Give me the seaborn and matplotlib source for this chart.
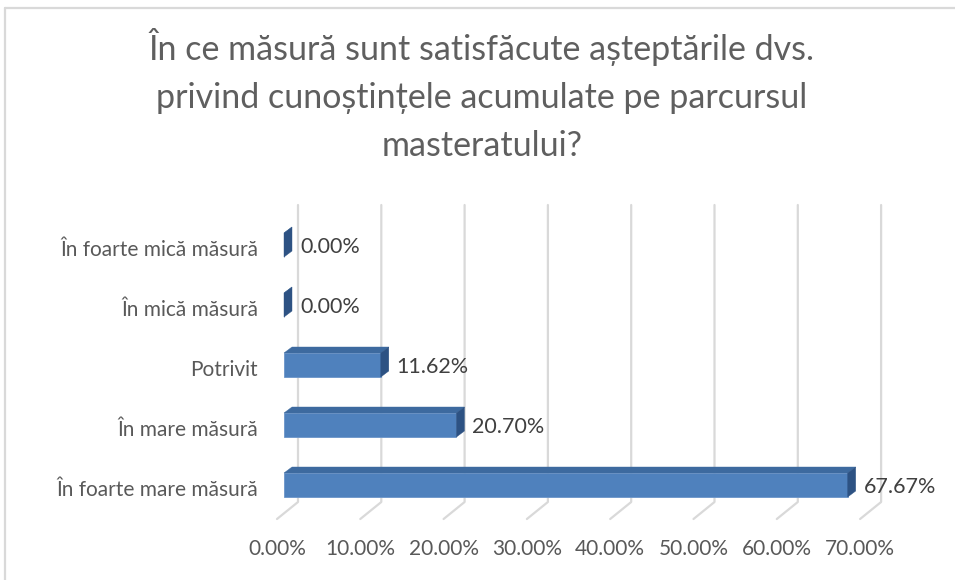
import matplotlib
matplotlib.use('Agg')
import matplotlib.pyplot as plt
import seaborn as sns
import pandas as pd
from matplotlib.transforms import Affine2D, IdentityTransform, blended_transform_factory
from matplotlib.patches import Polygon
from matplotlib.lines import Line2D

categories = ["În foarte mică măsură", "În mică măsură", "Potrivit",
              "În mare măsură", "În foarte mare măsură"]
values = [0.00, 0.00, 11.62, 20.70, 67.67]
xticks = [0, 10, 20, 30, 40, 50, 60, 70]
xtick_labels = ["0.00%", "10.00%", "20.00%", "30.00%", "40.00%", "50.00%", "60.00%", "70.00%"]
title = ("În ce măsură sunt satisfăcute așteptările dvs.\n"
         "privind cunoștințele acumulate pe parcursul\n"
         "masteratului?")

sns.set_theme(style='white')
plt.rcParams['font.family'] = ['Lato', 'DejaVu Sans']

W, H = 955, 580
fig = plt.figure(figsize=(W / 100, H / 100), dpi=100)
fig.patch.set_facecolor('white')

ax_left, ax_right, ax_top, ax_bot = 284, 284 + 70 * 8.33, 215, 515
ax = fig.add_axes([ax_left / W, 1 - ax_bot / H, (ax_right - ax_left) / W, (ax_bot - ax_top) / H])

df = pd.DataFrame({'cat': categories, 'val': values})
sns.barplot(data=df, x='val', y='cat', orient='h', width=0.4, color='#4F81BD',
            saturation=1, ax=ax, zorder=3, edgecolor='#6B95C9', linewidth=0.6)
ax.set_xlim(0, 70)
ax.set_ylim(4.5, -0.5)
for s in ax.spines.values():
    s.set_visible(False)
ax.set_xticks([])
ax.set_yticks([])
ax.set_xlabel('')
ax.set_ylabel('')
ax.patch.set_alpha(0)

# 3D depth offsets (pixels)
bdx, bdy = 8, 6          # bar depth
gback = 14               # back wall offset from bar front
fdx, fdy = -21, 17       # floor diagonal
grid_top, grid_bot = 205, 502

gc = '#D9D9D9'
for t in xticks:
    px = ax.transData.transform((t, 0))[0]
    bx = px + gback
    ax.add_line(Line2D([bx, bx, bx + fdx], [H - grid_top, H - grid_bot, H - grid_bot - fdy],
                       transform=IdentityTransform(), color=gc, lw=1.6, zorder=0.5, clip_on=False))

for patch in ax.containers[0]:
    bb = patch.get_window_extent()
    x0, y0, x1, y1 = bb.x0, bb.y0, bb.x1, bb.y1
    top = Polygon([(x0, y1), (x1, y1), (x1 + bdx, y1 + bdy), (x0 + bdx, y1 + bdy)],
                  closed=True, transform=IdentityTransform(), facecolor='#3D6A9F',
                  edgecolor='#3D6A9F', lw=0.3, zorder=3, clip_on=False)
    side = Polygon([(x1, y0), (x1, y1), (x1 + bdx, y1 + bdy), (x1 + bdx, y0 + bdy)],
                   closed=True, transform=IdentityTransform(), facecolor='#2D5283',
                   edgecolor='#2D5283', lw=0.3, zorder=3.1, clip_on=False)
    ax.add_patch(top)
    ax.add_patch(side)

# data labels
for i, v in enumerate(values):
    ax.text(v, i, f"{v:.2f}%", transform=ax.transData + Affine2D().translate(16, -2),
            ha='left', va='center', fontsize=15.5, color='#404040', zorder=5, clip_on=False)

# category labels
for i, c in enumerate(categories):
    ax.text(0, i, c, transform=ax.transData + Affine2D().translate(-26, -5),
            ha='right', va='center', fontsize=15, color='#595959', clip_on=False)

# x tick labels
bt = blended_transform_factory(ax.transData, ax.transAxes)
for t, lab in zip(xticks, xtick_labels):
    ax.text(t, 0, lab, transform=bt + Affine2D().translate(-7, -34),
            ha='center', va='center', fontsize=15, color='#595959', clip_on=False)

fig.text(482 / W, 1 - 28 / H, title, ha='center', va='top', fontsize=24.5,
         color='#5f5f5f', linespacing=1.62)

fig.add_artist(Line2D([5 / W, 5 / W], [0, 1 - 8 / H], transform=fig.transFigure, color='#D9D9D9', lw=1.6))
fig.add_artist(Line2D([5 / W, 1], [1 - 8 / H, 1 - 8 / H], transform=fig.transFigure, color='#D9D9D9', lw=1.6))

fig.savefig('out.png', dpi=100)
